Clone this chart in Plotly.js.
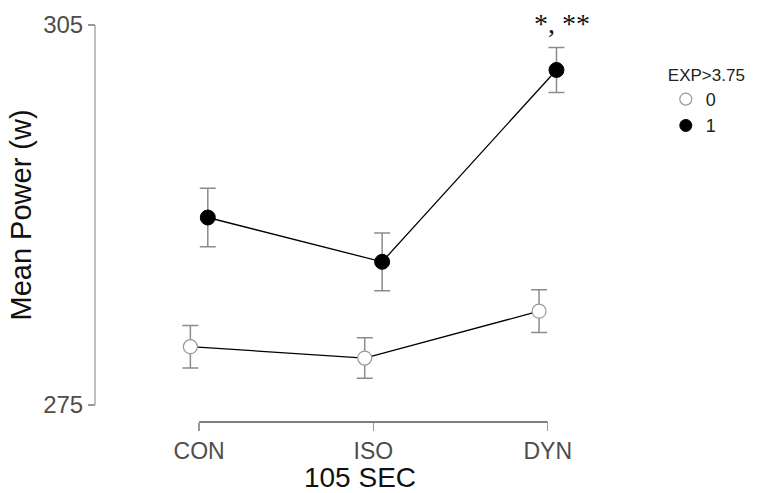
<!DOCTYPE html>
<html>
<head>
<meta charset="utf-8">
<script src="https://cdn.plot.ly/plotly-3.0.1.min.js"></script>
<style>html,body{margin:0;padding:0;background:#fff;}#chart{width:765px;height:493px;}</style>
</head>
<body>
<div id="chart"></div>
<script>
// Data
const categories = ["CON", "ISO", "DYN"];
const groupNames = ["0", "1"];
const mean0 = [279.6, 278.7, 282.4];
const err0 = [1.68, 1.6, 1.69];
const mean1 = [289.8, 286.3, 301.45];
const err1 = [2.3, 2.28, 1.78];
const yTicks = [275, 305];
const legendTitle = "EXP>3.75";
const sigText = "*, **";

const dodge = 0.05;
const xs0 = categories.map((c, i) => i - dodge);
const xs1 = categories.map((c, i) => i + dodge);

const lineStyle = {color: "#000", width: 1.3};
const errStyle = (arr) => ({type: "data", array: arr, visible: true, color: "#8c8c8c", thickness: 1.5, width: 8});

const traces = [
  {x: xs0, y: mean0, mode: "lines", line: lineStyle, showlegend: false, hoverinfo: "skip"},
  {x: xs1, y: mean1, mode: "lines", line: lineStyle, showlegend: false, hoverinfo: "skip"},
  {x: xs0, y: mean0, mode: "markers", showlegend: false, error_y: errStyle(err0), cliponaxis: false,
   marker: {size: 14, color: "#fff", line: {color: "#9a9a9a", width: 1.2}}},
  {x: xs1, y: mean1, mode: "markers", showlegend: false, error_y: errStyle(err1), cliponaxis: false,
   marker: {size: 15, color: "#000", line: {color: "#000", width: 1}}},
  {x: [null], y: [null], mode: "markers", name: groupNames[0], showlegend: true,
   marker: {size: 12, color: "#fff", line: {color: "#9a9a9a", width: 1.2}}},
  {x: [null], y: [null], mode: "markers", name: groupNames[1], showlegend: true,
   marker: {size: 12, color: "#000", line: {color: "#000", width: 1}}}
];

const layout = {
  width: 765, height: 493,
  margin: {l: 95, r: 140, t: 25, b: 71},
  paper_bgcolor: "#fff", plot_bgcolor: "#fff",
  font: {family: "Liberation Sans, Arial, sans-serif", color: "#4d4d4d"},
  showlegend: true,
  legend: {
    x: 1.077, y: 0.915, xanchor: "left", yanchor: "top",
    title: {text: legendTitle, font: {size: 17, color: "#222"}},
    font: {size: 18, color: "#222"},
    tracegroupgap: 0, itemwidth: 30
  },
  xaxis: {
    range: [-0.597, 2.443],
    anchor: "free", position: 0,
    showgrid: false, zeroline: false, showline: false,
    tickmode: "array", tickvals: categories.map((c, i) => i), ticktext: categories,
    ticks: "outside", ticklen: 8, tickwidth: 1.2, tickcolor: "#999",
    tickfont: {size: 23, color: "#4d4d4d"},
    title: {text: "105 SEC", font: {size: 28, color: "#111"}, standoff: 4}
  },
  yaxis: {
    range: [275, 305],
    domain: [0.043, 1],
    anchor: "free", position: 0,
    showgrid: false, zeroline: false, showline: false,
    tickmode: "array", tickvals: yTicks,
    ticks: "outside", ticklen: 7, tickwidth: 1.2, tickcolor: "#999",
    tickfont: {size: 24, color: "#4d4d4d"},
    title: {text: "Mean Power (w)", font: {size: 29, color: "#111"}, standoff: 1}
  },
  shapes: [
    {type: "line", xref: "x", yref: "paper", x0: 0, x1: categories.length - 1, y0: 0, y1: 0,
     line: {color: "#555", width: 1.5}},
    {type: "line", xref: "paper", yref: "y", x0: 0, x1: 0, y0: yTicks[0], y1: yTicks[1],
     line: {color: "#aaa", width: 1.5}}
  ],
  annotations: [
    {x: xs1[2], y: mean1[2] + err1[2], xref: "x", yref: "y", text: sigText, showarrow: false,
     yanchor: "bottom", xanchor: "center", xshift: 6, yshift: 6,
     font: {family: "Liberation Serif, Times New Roman, serif", size: 28, color: "#111"}}
  ]
};

Plotly.newPlot("chart", traces, layout, {displayModeBar: false, staticPlot: true});
</script>
</body>
</html>
